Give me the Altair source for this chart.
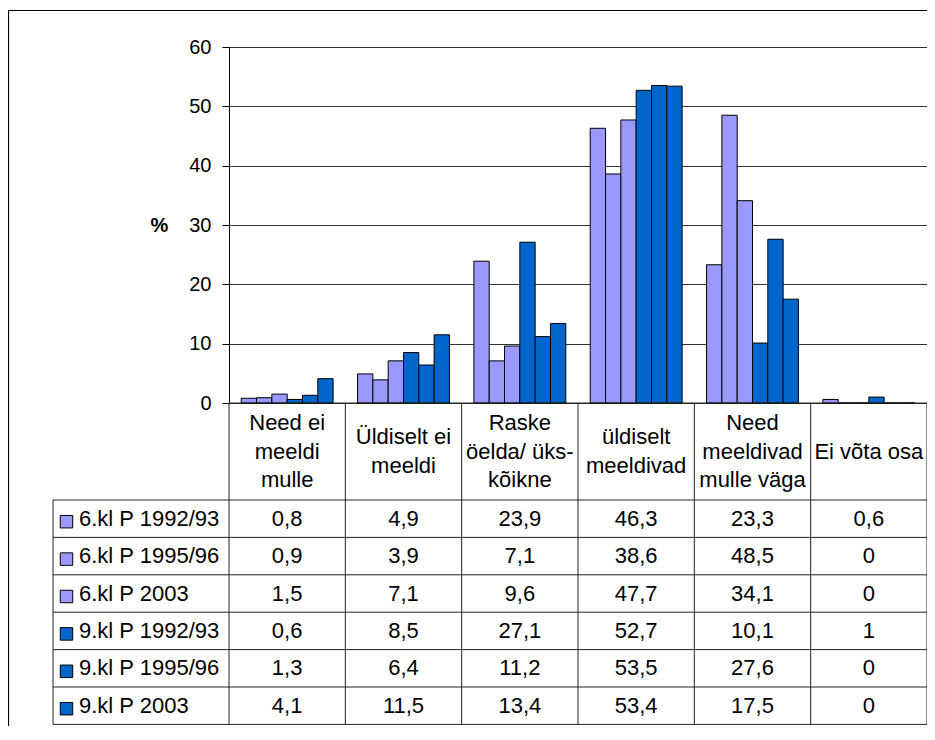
import altair as alt
import pandas as pd

# ---------------- data ----------------
SERIES = ["6.kl P 1992/93", "6.kl P 1995/96", "6.kl P 2003",
          "9.kl P 1992/93", "9.kl P 1995/96", "9.kl P 2003"]
CATEGORIES = ["Need ei\nmeeldi\nmulle", "Üldiselt ei\nmeeldi",
              "Raske\nöelda/ üks-\nkõikne", "üldiselt\nmeeldivad",
              "Need\nmeeldivad\nmulle väga", "Ei võta osa"]
S1 = [0.8, 4.9, 23.9, 46.3, 23.3, 0.6]
S2 = [0.9, 3.9, 7.1, 38.6, 48.5, 0]
S3 = [1.5, 7.1, 9.6, 47.7, 34.1, 0]
S4 = [0.6, 8.5, 27.1, 52.7, 10.1, 1]
S5 = [1.3, 6.4, 11.2, 53.5, 27.6, 0]
S6 = [4.1, 11.5, 13.4, 53.4, 17.5, 0]
VALUES = [S1, S2, S3, S4, S5, S6]
COLORS = ["#9999FF", "#9999FF", "#9999FF", "#0066CC", "#0066CC", "#0066CC"]
Y_TICKS = [0, 10, 20, 30, 40, 50, 60]

FONT = "Liberation Sans"
TABLE_FS = 22

# ---------------- layout (pixels) ----------------
PLOT_W = 698
PLOT_H = 356
NCOL = len(CATEGORIES)
NROW = len(SERIES)
COL_W = PLOT_W / NCOL
HEADER_H = 97.0
ROW_H = 37.4
LINE_H = 28.5
LABEL_COL_W = 176.0
PAD = {"left": 221, "top": 39, "right": 0, "bottom": 323}


def col_units(px):
    return px / COL_W


def row_units(px_from_plot_top):
    return (px_from_plot_top - PLOT_H - HEADER_H) / ROW_H


HEADER_ROWS = HEADER_H / ROW_H
LABEL_LEFT = col_units(-LABEL_COL_W)
FRAME_LEFT = col_units(-PAD["left"] + 0.5)
FRAME_RIGHT = col_units(PLOT_W + PAD["right"] + 10)
FRAME_TOP = row_units(-PAD["top"] + 2.5)
FRAME_BOTTOM = row_units(PLOT_H + PAD["bottom"] + 20)

XS = alt.Scale(domain=[0, NCOL], range=[0, PLOT_W], nice=False, zero=False)
YS = alt.Scale(domain=[-HEADER_ROWS, NROW],
               range=[PLOT_H, PLOT_H + HEADER_H + NROW * ROW_H],
               nice=False, zero=False)


def fmt(v):
    return f"{v:g}".replace(".", ",")


# ---------------- bars ----------------
bar_rows = []
for s, vals in zip(SERIES, VALUES):
    for c, v in zip(CATEGORIES, vals):
        bar_rows.append({"cat": c, "series": s, "value": v})
df_bars = pd.DataFrame(bar_rows)

color = alt.Color("series:N", sort=SERIES,
                  scale=alt.Scale(domain=SERIES, range=COLORS), legend=None)

bars = alt.Chart(df_bars).mark_bar(stroke="black", strokeWidth=1).encode(
    x=alt.X("cat:N", sort=CATEGORIES,
            scale=alt.Scale(paddingInner=0.21, paddingOuter=0.105), axis=None),
    xOffset=alt.XOffset("series:N", sort=SERIES),
    y=alt.Y("value:Q", scale=alt.Scale(domain=[0, 60], nice=False),
            axis=alt.Axis(values=Y_TICKS, title="%", titleAngle=0,
                          titleX=-70, titleY=178, titleAlign="center",
                          titleBaseline="middle", titleFont=FONT,
                          titleFontSize=20, titleFontWeight="bold",
                          titleColor="black",
                          labelFont=FONT, labelFontSize=20, labelColor="black",
                          labelPadding=11, tickSize=7, tickColor="black",
                          domainColor="black", grid=True, gridColor="#333",
                          gridOpacity=1)),
    color=color,
)

# ---------------- table ----------------
lines = []
for r in range(NROW + 1):
    lines.append({"x": LABEL_LEFT, "x2": NCOL, "y": r, "y2": r})
lines.append({"x": 0, "x2": NCOL, "y": -HEADER_ROWS, "y2": -HEADER_ROWS})
for c in range(NCOL + 1):
    lines.append({"x": c, "x2": c, "y": -HEADER_ROWS, "y2": NROW})
lines.append({"x": LABEL_LEFT, "x2": LABEL_LEFT, "y": 0, "y2": NROW})
df_lines = pd.DataFrame(lines)

frame = pd.DataFrame([
    {"x": FRAME_LEFT, "x2": FRAME_RIGHT, "y": FRAME_TOP, "y2": FRAME_TOP},
    {"x": FRAME_LEFT, "x2": FRAME_LEFT, "y": FRAME_TOP, "y2": FRAME_BOTTOM},
])

rule_layer = alt.Chart(df_lines).mark_rule(color="#222", strokeWidth=1).encode(
    x=alt.X("x:Q", scale=XS, axis=None), x2="x2",
    y=alt.Y("y:Q", scale=YS, axis=None), y2="y2")

frame_layer = alt.Chart(frame).mark_rule(color="black", strokeWidth=1.2).encode(
    x=alt.X("x:Q", scale=XS, axis=None), x2="x2",
    y=alt.Y("y:Q", scale=YS, axis=None), y2="y2")

# header labels: one text per line, block centred vertically in the header
head_rows = []
for i, cat in enumerate(CATEGORIES):
    parts = cat.split("\n")
    n = len(parts)
    for k, p in enumerate(parts):
        off_px = (k - (n - 1) / 2) * LINE_H
        head_rows.append({"x": i + 0.5,
                          "y": -HEADER_ROWS / 2 + off_px / ROW_H,
                          "t": p})
df_head = pd.DataFrame(head_rows)
head_layer = alt.Chart(df_head).mark_text(
    font=FONT, fontSize=TABLE_FS, color="black", align="center",
    baseline="middle").encode(
    x=alt.X("x:Q", scale=XS, axis=None),
    y=alt.Y("y:Q", scale=YS, axis=None), text="t:N")

cell_rows = []
for i, (s, vals) in enumerate(zip(SERIES, VALUES)):
    for j, v in enumerate(vals):
        cell_rows.append({"x": j + 0.5, "y": i + 0.5, "t": fmt(v)})
df_cells = pd.DataFrame(cell_rows)
cell_layer = alt.Chart(df_cells).mark_text(
    font=FONT, fontSize=TABLE_FS, color="black", align="center",
    baseline="middle").encode(
    x=alt.X("x:Q", scale=XS, axis=None),
    y=alt.Y("y:Q", scale=YS, axis=None), text="t:N")

df_lab = pd.DataFrame({"x": [LABEL_LEFT] * NROW,
                       "y": [i + 0.5 for i in range(NROW)],
                       "series": SERIES})
lab_layer = alt.Chart(df_lab).mark_text(
    font=FONT, fontSize=TABLE_FS, color="black", align="left",
    baseline="middle", dx=26).encode(
    x=alt.X("x:Q", scale=XS, axis=None),
    y=alt.Y("y:Q", scale=YS, axis=None), text="series:N")

sq_layer = alt.Chart(df_lab).mark_square(
    size=156, filled=True, opacity=1, stroke="black", strokeWidth=1,
    xOffset=13.5, yOffset=3).encode(
    x=alt.X("x:Q", scale=XS, axis=None),
    y=alt.Y("y:Q", scale=YS, axis=None), color=color)

table = alt.layer(rule_layer, frame_layer, head_layer, cell_layer,
                  lab_layer, sq_layer)

chart = alt.layer(bars, table).resolve_scale(
    x="independent", y="independent"
).properties(
    width=PLOT_W, height=PLOT_H, padding=PAD,
    autosize=alt.AutoSizeParams(type="none"),
    background="white",
).configure_view(stroke=None)

chart.save("out.html", embed_options={"renderer": "svg", "actions": False})
